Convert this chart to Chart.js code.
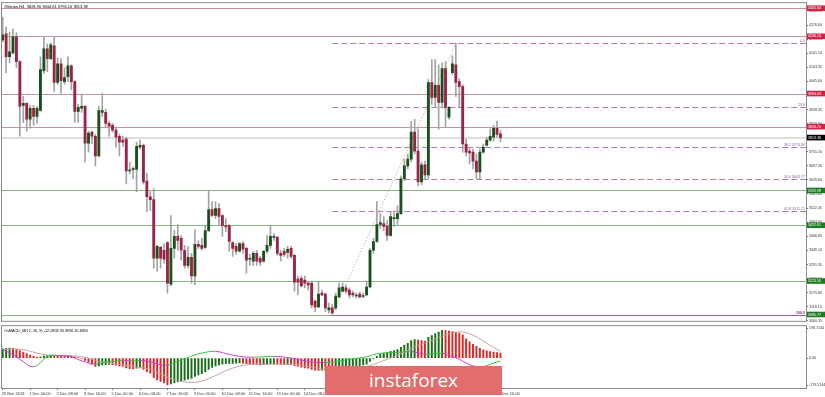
<!DOCTYPE html>
<html><head><meta charset="utf-8">
<script src="https://cdn.jsdelivr.net/npm/chart.js@4.4.0/dist/chart.umd.min.js"></script>
<style>
html,body{margin:0;padding:0;background:#fff;}
#wrap{position:relative;width:825px;height:397px;overflow:hidden;background:#fff;}
#main{position:absolute;left:0;top:0;}
#macd{position:absolute;left:0;top:323px;}
#logo{position:absolute;left:325px;top:366px;width:177px;height:29px;background:#e36d6d;color:#fff;
 font-family:'Open Sans','Lato',sans-serif;font-size:19px;line-height:29px;text-align:left;box-sizing:border-box;padding-left:44px;}
</style></head>
<body><div id="wrap">
<canvas id="main" width="825" height="324"></canvas>
<canvas id="macd" width="825" height="74"></canvas>
<div id="logo">instaforex</div>
</div>
<script>
// ---------- DATA ----------
const opens = [4215,4240,4146,4162,4228,4126,3946,3954,3889,3934,
3901,3925,4089,4179,4138,4191,4040,4117,4044,4064,
4109,4044,3921,3934,3942,3791,3836,3819,3738,3917,
3917,3872,3864,3844,3819,3803,3807,3676,3682,3684,
3774,3782,3635,3570,3558,3317,3362,3350,3382,3211,
3358,3407,3399,3350,3288,3321,3244,3374,3370,3362,
3431,3517,3493,3521,3493,3452,3452,3382,3366,3346,
3378,3358,3313,3305,3337,3317,3305,3346,3370,3403,
3403,3337,3346,3341,3358,3329,3231,3235,3227,3215,
3215,3141,3117,3174,3170,3105,3113,3113,3158,3182,
3195,3186,3174,3162,3170,3160,3166,3199,3350,3386,
3456,3460,3448,3411,3480,3480,3501,3644,3697,3725,
3836,3758,3631,3701,3660,4040,3979,4028,3958,4097,
3897,4081,4113,4044,4023,3787,3758,3754,3717,3672,
3754,3782,3803,3815,3852,3828.96];
const highs = [4309,4268,4248,4260,4244,4130,3983,3958,3946,3946,
3942,4146,4228,4199,4203,4228,4142,4138,4101,4146,
4113,4048,3950,3991,3946,3840,3840,3827,3942,3995,
3930,3881,3872,3852,3827,3819,3815,3713,3693,3795,
3803,3787,3668,3591,3603,3370,3366,3378,3386,3493,
3431,3456,3411,3370,3366,3337,3435,3390,3399,3448,
3595,3550,3550,3542,3497,3480,3456,3386,3378,3382,
3386,3362,3333,3346,3350,3325,3350,3411,3452,3419,
3407,3350,3358,3366,3366,3333,3244,3244,3244,3223,
3223,3145,3223,3186,3174,3133,3129,3174,3215,3215,
3207,3195,3182,3174,3178,3174,3223,3358,3399,3550,
3501,3489,3472,3509,3513,3533,3656,3725,3746,3881,
3889,3848,3713,3717,4052,4134,4134,4113,4121,4126,
3942,4150,4200.77,4056,4032,3807,3774,3766,3746,3766,
3787,3815,3848,3864,3881,3844.61];
const lows = [4207,4081,4121,4158,4101,3819,3876,3840,3852,3864,
3872,3921,4077,4085,4134,4003,4032,3995,4032,4044,
4011,3876,3876,3917,3713,3754,3787,3697,3734,3901,
3856,3819,3836,3774,3738,3778,3623,3664,3644,3591,
3766,3623,3509,3513,3276,3264,3276,3297,3174,3203,
3317,3350,3309,3276,3276,3215,3207,3358,3350,3358,
3427,3489,3480,3452,3407,3427,3346,3325,3333,3342,
3337,3256,3288,3288,3288,3288,3301,3337,3358,3390,
3329,3305,3325,3317,3317,3182,3166,3199,3195,3186,
3113,3096,3113,3162,3096,3092,3085.77,3105,3154,3178,
3174,3154,3158,3154,3154,3154,3162,3195,3337,3382,
3440,3431,3391,3407,3448,3456,3497,3636,3685,3713,
3746,3615,3619,3644,3644,3950,3938,3848,3938,3856,
3889,4072,3983,3938,3754,3738,3705,3685,3644,3644,
3750,3778,3799,3799,3815,3796.10];
const closes = [4236,4146,4166,4228,4126,3942,3954,3889,3934,3901,
3934,4093,4179,4138,4195,4040,4117,4048,4060,4109,
4044,3921,3938,3942,3791,3832,3819,3738,3925,3925,
3872,3860,3844,3815,3795,3795,3676,3680,3684,3778,
3782,3631,3570,3558,3317,3366,3317,3313,3215,3358,
3407,3391,3350,3288,3321,3244,3374,3366,3358,3431,
3517,3493,3521,3489,3452,3446,3386,3358,3346,3378,
3354,3309,3317,3337,3305,3301,3346,3370,3407,3407,
3337,3329,3333,3354,3325,3219,3219,3203,3215,3207,
3125,3117,3170,3166,3113,3113,3092,3162,3195,3199,
3182,3166,3166,3166,3158,3164,3199,3350,3386,3456,
3464,3448,3411,3489,3484,3501,3644,3697,3725,3836,
3758,3631,3701,3660,4040,3979,4028,3958,4097,3938,
3938,4117,4040,4023,3787,3754,3750,3717,3672,3754,
3774,3803,3819,3852,3827,3813.38];

const macdHist = [62,64,66,65,58,50,40,30,20,12,
6,8,14,17,20,19,18,16,15,16,
15,10,4,-3,-15,-28,-40,-55,-52,-46,
-44,-42,-44,-48,-52,-56,-65,-70,-72,-68,
-66,-75,-90,-100,-130,-145,-155,-165,-178,-172,
-165,-158,-152,-147,-140,-135,-122,-112,-103,-92,
-75,-63,-52,-45,-40,-37,-36,-35,-34,-33,
-34,-38,-40,-41,-43,-45,-44,-42,-38,-37,
-39,-40,-42,-41,-44,-50,-56,-61,-65,-68,
-75,-80,-82,-80,-82,-83,-86,-82,-76,-70,
-65,-61,-57,-53,-50,-46,-40,-22,-6,12,
24,32,36,44,50,56,72,86,98,116,
122,119,116,112,138,150,162,172,184,182,
179,176,172,166,155,128,108,92,78,64,
55,48,43,40,37,33.4];
const macdSignal = [55,57,58,59,60,59,56,51,45,39,
33,28,24,21,19,18,17,17,16,16,
15,14,12,9,5,-1,-8,-15,-21,-26,
-30,-33,-36,-39,-42,-45,-49,-53,-57,-60,
-62,-65,-69,-75,-84,-94,-105,-116,-127,-137,
-145,-151,-156,-159,-161,-162,-161,-158,-153,-146,
-137,-127,-116,-105,-94,-84,-75,-67,-60,-54,
-49,-45,-43,-41,-40,-40,-40,-41,-41,-41,
-40,-40,-40,-41,-41,-43,-46,-49,-53,-57,
-61,-65,-69,-72,-75,-77,-79,-80,-80,-79,
-77,-74,-71,-68,-64,-60,-56,-50,-43,-35,
-26,-17,-8,1,10,19,29,40,51,63,
74,84,93,101,110,119,128,137,146,154,
161,167,171,175,173,169,162,152,140,127,
113,98,84,70,57,45.69];
const osmaLine = [55,45,35,22,8,-8,-25,-42,-55,-58,
-50,-30,-8,10,16,17,17,16,15,14,
8,0,-10,-18,-26,-33,-38,-40,-38,-33,
-28,-24,-22,-20,-18,-17,-18,-19,-19,-17,
-15,-16,-20,-25,-32,-38,-44,-48,-50,-42,
-32,-22,-12,-4,4,12,20,27,33,38,
42,45,45,42,36,30,24,20,15,11,
8,7,6,5,6,7,8,10,11,11,
10,9,6,3,0,-5,-10,-14,-18,-22,
-26,-28,-29,-30,-31,-30,-28,-24,-20,-16,
-12,-8,-5,-2,1,4,8,15,22,28,
32,34,35,36,37,38,40,42,42,44,
40,34,28,24,26,28,30,30,32,26,
18,10,2,-8,-20,-32,-44,-52,-56,-58,
-56,-50,-42,-34,-26,-20];

const priceTicks = [4334.35,4276.60,4218.85,4161.10,4103.35,4045.60,3987.85,3928.35,3870.60,3812.85,3755.10,3697.35,3639.60,3581.85,3522.35,3464.60,3406.85,3349.10,3291.35,3233.60,3175.85,3118.10,3060.35];
const macdTicks = [198.7144, 0, -179.5744];
const macdTickText = ['198.7144','0.00','-179.5744'];
const timeLabels = ['29 Nov 2018','1 Dec 00:00','2 Dec 08:00','3 Dec 16:00','5 Dec 00:00','6 Dec 08:00','7 Dec 16:00','9 Dec 00:00','10 Dec 08:00','11 Dec 16:00','13 Dec 00:00','14 Dec 08:00','15 Dec 16:00','17 Dec 00:00','18 Dec 08:00','19 Dec 16:00','21 Dec 00:00','22 Dec 08:00','23 Dec 16:00'];
const timeLabelBars = [0,8,16,24,32,40,48,56,64,72,80,88,96,104,112,120,128,136,144];

const resistanceLevels = [4345.64, 4230.14, 3994.63, 3858.70];
const supportLevels = [3595.98, 3452.81, 3223.56, 3085.77];
const lastPrice = 3813.38;
const fibLevels = [4200.77, 3937.64, 3774.84, 3643.27, 3511.71, 3085.77];
const fibLabels = ['0.0', '23.6', '38.2 3774.84', '50.0 3643.27', '61.8 3511.71', '100.0'];
const fibFromBar = 96, fibToBar = 132;
const titleText = '#Bitcoin,H4  3828.96 3844.61 3796.10 3813.38';
const macdTitle = 'OsMACD_M(12, 26, 9) -12.2858 33.3996 45.6855';

// ---------- STYLE ----------
const FAM = "'Liberation Sans', Arial, sans-serif";
const BULL = '#1b4f1b', BEAR = '#9a2445', WICK = '#a3a3a3';
const FRAME = '#8a8a8a';
const N = closes.length;
const idx = Array.from({length: N}, (_, i) => i);
const XMIN = -0.2, XMAX = 234;

const mainOverlay = {
  id: 'mainOverlay',
  beforeDatasetsDraw(chart) {
    const {ctx, chartArea: a, scales: {x, y}} = chart;
    ctx.save();
    ctx.beginPath(); ctx.rect(a.left, a.top, a.right - a.left, a.bottom - a.top); ctx.clip();
    const hline = (v, color, w, dash, x0) => {
      const py = Math.round(y.getPixelForValue(v)) + (w % 2 ? 0.5 : 0);
      ctx.strokeStyle = color; ctx.lineWidth = w; ctx.setLineDash(dash || []);
      ctx.beginPath(); ctx.moveTo(x0 !== undefined ? x0 : a.left, py); ctx.lineTo(a.right, py); ctx.stroke();
    };
    hline(lastPrice, '#dedede', 2);
    resistanceLevels.forEach(v => hline(v, '#c6959f', 1));
    supportLevels.forEach(v => hline(v, '#8db08d', 1));
    const fx = x.getPixelForValue(fibFromBar);
    fibLevels.forEach((v, k) => hline(v, k === 5 ? '#9a62ad' : '#a67fba', 1, k === 5 ? [] : [6, 3], fx));
    ctx.setLineDash([1, 2]); ctx.strokeStyle = '#cf8f8f'; ctx.lineWidth = 1;
    ctx.beginPath();
    ctx.moveTo(x.getPixelForValue(fibFromBar), y.getPixelForValue(fibLevels[5]));
    ctx.lineTo(x.getPixelForValue(fibToBar), y.getPixelForValue(fibLevels[0]));
    ctx.stroke();
    ctx.restore();
  },
  afterDraw(chart) {
    const {ctx, chartArea: a, scales: {y}} = chart;
    ctx.save();
    ctx.strokeStyle = FRAME; ctx.lineWidth = 1; ctx.setLineDash([]);
    ctx.strokeRect(a.left - 0.5, a.top - 0.5, a.right - a.left + 1, a.bottom - a.top + 1);
    ctx.textAlign = 'right'; ctx.textBaseline = 'alphabetic';
    fibLevels.forEach((v, k) => {
      const py = y.getPixelForValue(v);
      ctx.font = (k === 5 ? 'bold ' : '') + '3.6px ' + FAM;
      ctx.fillStyle = k === 5 ? '#7a1f7a' : '#8d5a9c';
      ctx.fillText(fibLabels[k], a.right - 1, py - 1);
    });
    const tag = (v, bg) => {
      const py = y.getPixelForValue(v);
      ctx.fillStyle = bg; ctx.fillRect(a.right + 1, py - 2.8, 825 - a.right - 1, 5.6);
      ctx.fillStyle = '#fff'; ctx.font = '3.6px ' + FAM; ctx.textAlign = 'left'; ctx.textBaseline = 'middle';
      ctx.fillText(v.toFixed(2), a.right + 2, py + 0.2);
    };
    resistanceLevels.forEach(v => tag(v, '#d3224a'));
    supportLevels.forEach(v => tag(v, '#1c7a22'));
    tag(lastPrice, '#000');
    ctx.fillStyle = '#000'; ctx.font = '4px ' + FAM; ctx.textAlign = 'left'; ctx.textBaseline = 'middle';
    ctx.fillText(titleText, 4, 6.5);
    ctx.restore();
  }
};

new Chart(document.getElementById('main'), {
  type: 'bar',
  data: { datasets: [
    { data: idx.map(i => ({x: i, y: [lows[i], highs[i]]})), backgroundColor: WICK,
      barThickness: 1, grouped: false, order: 2 },
    { data: idx.map(i => ({x: i, y: [opens[i], closes[i]]})),
      backgroundColor: idx.map(i => closes[i] >= opens[i] ? BULL : BEAR),
      barThickness: 2.2, minBarLength: 1, grouped: false, order: 1 }
  ]},
  options: {
    responsive: false, animation: false, devicePixelRatio: 1,
    layout: { padding: { left: 2, top: 3, right: 0, bottom: 1 } },
    plugins: { legend: { display: false }, tooltip: { enabled: false } },
    scales: {
      x: { type: 'linear', min: XMIN, max: XMAX, display: false, offset: false, grid: { offset: false } },
      y: { position: 'right', min: 3059.7, max: 4366.45,
        afterFit(s) { s.width = 19; },
        afterBuildTicks(s) { s.ticks = priceTicks.map(v => ({value: v})); },
        ticks: { autoSkip: false, font: { size: 3.6, family: FAM }, color: '#333', padding: 1,
          callback: v => Number(v).toFixed(2) },
        grid: { drawOnChartArea: false, tickLength: 2, color: '#777' },
        border: { display: true, color: FRAME } }
    }
  },
  plugins: [mainOverlay]
});

const macdOverlay = {
  id: 'macdOverlay',
  afterDraw(chart) {
    const {ctx, chartArea: a} = chart;
    ctx.save();
    ctx.strokeStyle = FRAME; ctx.lineWidth = 1;
    ctx.strokeRect(a.left - 0.5, a.top - 0.5, a.right - a.left + 1, a.bottom - a.top + 1);
    ctx.fillStyle = '#000'; ctx.font = '3.8px ' + FAM; ctx.textAlign = 'left'; ctx.textBaseline = 'middle';
    ctx.fillText(macdTitle, 4, 7.5);
    ctx.restore();
  }
};

new Chart(document.getElementById('macd'), {
  type: 'bar',
  data: { datasets: [
    { type: 'bar', data: idx.map(i => ({x: i, y: macdHist[i]})),
      backgroundColor: idx.map(i => (i === 0 || macdHist[i] >= macdHist[i - 1]) ? '#1a6e1a' : '#dc2727'),
      barThickness: 1.3, grouped: false, order: 3 },
    { type: 'line', data: idx.map(i => ({x: i, y: macdSignal[i]})), borderColor: '#c9a3a3',
      borderWidth: 1, pointRadius: 0, tension: 0, order: 2 },
    { type: 'line', data: idx.map(i => ({x: i, y: osmaLine[i]})), borderColor: '#3fbf3f',
      borderWidth: 1, pointRadius: 0, tension: 0, order: 1,
      segment: { borderColor: c => c.p1.parsed.y >= c.p0.parsed.y ? '#3fbf3f' : '#d23cd2' } }
  ]},
  options: {
    responsive: false, animation: false, devicePixelRatio: 1,
    layout: { padding: { left: 2, top: 2, right: 0, bottom: 0 } },
    plugins: { legend: { display: false }, tooltip: { enabled: false } },
    scales: {
      x: { type: 'linear', min: XMIN, max: XMAX, offset: false,
        afterFit(s) { s.height = 9; },
        afterBuildTicks(s) { s.ticks = timeLabelBars.map(v => ({value: v})); },
        ticks: { autoSkip: false, maxRotation: 0, align: 'start', labelOffset: -1, padding: 1,
          font: { size: 4, family: FAM }, color: '#333',
          callback: (v, i) => timeLabels[i] },
        grid: { drawOnChartArea: false, offset: false, tickLength: 2, color: '#777' },
        border: { display: true, color: FRAME } },
      y: { position: 'right', min: -198.9, max: 211.9,
        afterFit(s) { s.width = 19; },
        afterBuildTicks(s) { s.ticks = macdTicks.map(v => ({value: v})); },
        ticks: { autoSkip: false, font: { size: 3.6, family: FAM }, color: '#333', padding: 1,
          callback: (v, i) => macdTickText[i] },
        grid: { drawOnChartArea: false, tickLength: 2, color: '#777' },
        border: { display: true, color: FRAME } }
    }
  },
  plugins: [macdOverlay]
});
</script>
</body></html>
